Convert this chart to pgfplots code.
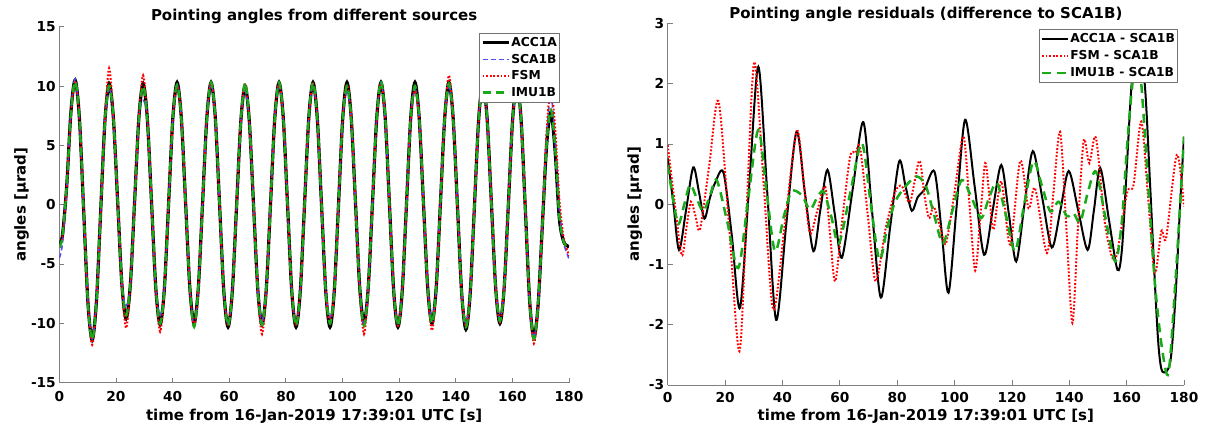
\documentclass[border=0pt]{standalone}
\usepackage{fontspec}
\setmainfont{DejaVu Sans}[BoldFont={DejaVu Sans Bold}]
\usepackage{pgfplots}
\usepackage{pgfplotstable}
\pgfplotsset{compat=1.18}
\definecolor{mblue}{RGB}{77,77,255}
\definecolor{mgreen}{RGB}{25,170,25}
\newcommand\tickfont{\fontsize{13.7}{16}\selectfont\bfseries}
\newcommand\labfont{\fontsize{15}{18}\selectfont\bfseries}
\newcommand\legfont{\fontsize{12.3}{13}\selectfont\bfseries}

\pgfplotstableread{
t acc sca fsm imu
0 -3.3 -4.5 -3.6 -3.6
1.1 -2.6 -3.3 -2.7 -2.7
2.6 1.5 1.2 1.5 1.5
4.1 7.8 7.8 7.6 7.7
5.6 10.5 10.6 10.3 10.4
7.1 7.3 7.3 7.3 7.3
8.6 -0.45 -0.45 -0.45 -0.45
10.1 -8.2 -8.2 -8.2 -8.2
11.6 -11.4 -11.3 -11.8 -11.4
13.1 -8.2 -8.2 -8.2 -8.2
14.6 -0.6 -0.6 -0.6 -0.6
16.1 7.0 7.0 7.0 7.0
17.6 10.2 9.9 11.5 10.0
19.1 7.3 7.3 7.3 7.3
20.6 0.3 0.3 0.3 0.3
22.1 -6.7 -6.7 -6.7 -6.7
23.6 -9.6 -8.5 -10.4 -9.3
25.1 -6.7 -6.7 -6.7 -6.7
26.6 0.3 0.3 0.3 0.3
28.1 7.3 7.3 7.3 7.3
29.6 10.2 8.8 10.9 10.0
31.1 7.2 7.2 7.2 7.2
32.6 0.05 0.05 0.05 0.05
34.1 -7.1 -7.1 -7.1 -7.1
35.6 -10.1 -9.3 -10.7 -10.0
37.1 -7.1 -7.1 -7.1 -7.1
38.6 0.1 0.1 0.1 0.1
40.1 7.3 7.3 7.3 7.3
41.6 10.3 10.1 10.1 10.1
43.1 7.3 7.3 7.3 7.3
44.6 0.15 0.15 0.15 0.15
46.1 -7.0 -7.0 -7.0 -7.0
47.6 -10.0 -10.2 -10.3 -10.3
49.1 -7.0 -7.0 -7.0 -7.0
50.6 0.15 0.15 0.15 0.15
52.1 7.3 7.3 7.3 7.3
53.6 10.3 10.2 10.3 10.3
55.1 7.3 7.3 7.3 7.3
56.6 0 0 0 0
58.1 -7.3 -7.3 -7.3 -7.3
59.6 -10.3 -10.1 -10.1 -10.2
61.1 -7.3 -7.3 -7.3 -7.3
62.6 -0.15 -0.15 -0.15 -0.15
64.1 7.0 7.0 7.0 7.0
65.6 10.0 9.6 10.2 10.3
67.1 7.05 7.05 7.05 7.05
68.6 -0.05 -0.05 -0.05 -0.05
70.1 -7.15 -7.15 -7.15 -7.15
71.6 -10.1 -9.8 -10.9 -10.1
73.1 -7.1 -7.1 -7.1 -7.1
74.6 0.1 0.1 0.1 0.1
76.1 7.3 7.3 7.3 7.3
77.6 10.3 10.2 10.3 10.3
79.1 7.3 7.3 7.3 7.3
80.6 0 0 0 0
82.1 -7.3 -7.3 -7.3 -7.3
83.6 -10.3 -10.0 -10.1 -10.2
85.1 -7.3 -7.3 -7.3 -7.3
86.6 0 0 0 0
88.1 7.3 7.3 7.3 7.3
89.6 10.3 10.1 10.2 10.3
91.1 7.3 7.3 7.3 7.3
92.6 0 0 0 0
94.1 -7.3 -7.3 -7.3 -7.3
95.6 -10.3 -9.5 -10.0 -10.0
97.1 -7.3 -7.3 -7.3 -7.3
98.6 0 0 0 0
100.1 7.3 7.3 7.3 7.3
101.6 10.3 9.5 10.1 10.0
103.1 7.3 7.3 7.3 7.3
104.6 0.15 0.15 0.15 0.15
106.1 -7.0 -7.0 -7.0 -7.0
107.6 -10.0 -10.2 -10.9 -10.2
109.1 -7.0 -7.0 -7.0 -7.0
110.6 0.15 0.15 0.15 0.15
112.1 7.3 7.3 7.3 7.3
113.6 10.3 10.3 10.2 10.4
115.1 7.3 7.3 7.3 7.3
116.6 0 0 0 0
118.1 -7.3 -7.3 -7.3 -7.3
119.6 -10.3 -10.1 -10.2 -10.2
121.1 -7.3 -7.3 -7.3 -7.3
122.6 0 0 0 0
124.1 7.3 7.3 7.3 7.3
125.6 10.3 9.7 9.6 10.0
127.1 7.3 7.3 7.3 7.3
128.6 0.15 0.15 0.15 0.15
130.1 -7.0 -7.0 -7.0 -7.0
131.6 -10.0 -9.7 -10.6 -10.0
133.1 -7.0 -7.0 -7.0 -7.0
134.6 0.15 0.15 0.15 0.15
136.1 7.3 7.3 7.3 7.3
137.6 10.3 10.1 10.9 10.2
139.1 7.25 7.25 7.25 7.25
140.6 -0.1 -0.1 -0.1 -0.1
142.1 -7.45 -7.45 -7.45 -7.45
143.6 -10.5 -10.0 -10.3 -10.3
145.1 -7.5 -7.5 -7.5 -7.5
146.6 -0.15 -0.15 -0.15 -0.15
148.1 7.2 7.2 7.2 7.2
149.6 10.2 10.3 10.5 10.3
151.1 7.2 7.2 7.2 7.2
152.6 0.1 0.1 0.1 0.1
154.1 -7.0 -7.0 -7.0 -7.0
155.6 -10.0 -9.6 -9.9 -9.8
157.1 -7.0 -7.0 -7.0 -7.0
158.6 0.1 0.1 0.1 0.1
160.1 7.2 7.2 7.2 7.2
161.6 10.2 9.5 10.2 10.2
163.1 7.1 7.1 7.1 7.1
164.6 -0.5 -0.5 -0.5 -0.5
166.1 -8.1 -8.1 -8.1 -8.1
167.6 -11.2 -11.2 -11.7 -11.3
169.1 -8.4 -8.4 -8.4 -8.4
170.6 -1.7 -1.7 -1.7 -1.7
172.1 5.0 5.8 6.2 5.1
173.6 7.8 9.2 9.8 8.0
175.1 4.5 5.5 6.5 4.8
176.6 -1.2 -0.5 0.5 -1.0
178.1 -3.1 -3.2 -2.8 -3.1
179.6 -3.5 -4.3 -4.0 -3.6
180 -3.6 -4.6 -4.3 -3.7
}\lefttable

\pgfplotsset{
  every axis title shift=0pt,
  matax/.style={
    scale only axis,
    axis x line*=bottom, axis y line*=left,
    axis line style={black!50, line width=0.7pt, -},
    tick style={black!50, line width=0.7pt},
    tick align=inside,
    major tick length=5pt,
    xmin=0, xmax=180,
    xtick={0,20,40,60,80,100,120,140,160,180},
    xticklabels={0,20,40,60,80,100,120,140,160,180},
    ticklabel style={font=\tickfont, text=black},
    xticklabel style={anchor=base},
    label style={font=\labfont},
    title style={font=\labfont, anchor=base},
    ylabel style={anchor=base},
    xlabel style={anchor=base},
    legend cell align=left,
    clip=true,
  }
}

\begin{document}
\begin{tikzpicture}[x=1pt,y=1pt]
\path[use as bounding box] (0,0) rectangle (1210,427);

% ---------------- left axis
\begin{axis}[matax,
  at={(59.3pt,44.3pt)}, anchor=south west,
  width=509.7pt, height=356pt,
  ymin=-15, ymax=15,
  ytick={-15,-10,-5,0,5,10,15},
  yticklabels={-15,-10,-5,0,5,10,15},
  xticklabel style={yshift=-19pt},
  title={Pointing angles from different sources},
  title style={at={(axis description cs:0.5,1.0)}, yshift=6pt},
  xlabel={time from 16-Jan-2019 17:39:01 UTC [s]},
  xlabel style={at={(axis description cs:0.5,-0.106)}},
  ylabel={angles [µrad]},
  ylabel style={at={(axis description cs:-0.066,0.5)}},
  legend image code/.code={\draw[#1] (0pt,0pt) -- (26pt,0pt);},
  legend style={at={(0.982,0.983)}, anchor=north east, draw=black!55,
    line width=0.8pt, fill=white, font=\legfont, inner xsep=1.5pt, inner ysep=1.5pt,
    row sep=0pt,
    nodes={text height=10pt, text depth=2.5pt, inner xsep=1pt, inner ysep=2pt}},
]
\addplot[black, line width=3.2pt, smooth] table[x=t,y=acc]{\lefttable};
\addlegendentry{ACC1A}
\addplot[mblue, line width=1.6pt, smooth, dash pattern=on 5pt off 3pt] table[x=t,y=sca]{\lefttable};
\addlegendentry{SCA1B}
\addplot[red, line width=2pt, smooth, dash pattern=on 1.8pt off 1.8pt] table[x=t,y=fsm]{\lefttable};
\addlegendentry{FSM}
\addplot[mgreen, line width=2.4pt, smooth, dash pattern=on 8pt off 5pt] table[x=t,y=imu]{\lefttable};
\addlegendentry{IMU1B}
\end{axis}

% ---------------- right axis
\begin{axis}[matax,
  at={(667.7pt,42pt)}, anchor=south west,
  width=516.3pt, height=361.7pt,
  ymin=-3, ymax=3,
  ytick={-3,-2,-1,0,1,2,3},
  yticklabels={-3,-2,-1,0,1,2,3},
  xticklabel style={yshift=-18pt},
  title={Pointing angle residuals (difference to SCA1B)},
  title style={at={(axis description cs:0.5,1.0)}, yshift=5pt},
  xlabel={time from 16-Jan-2019 17:39:01 UTC [s]},
  xlabel style={at={(axis description cs:0.5,-0.098)}},
  ylabel={angles [µrad]},
  ylabel style={at={(axis description cs:-0.056,0.5)}},
  legend image code/.code={\draw[#1] (0pt,0pt) -- (26pt,0pt);},
  legend style={at={(0.988,0.984)}, anchor=north east, draw=black!55,
    line width=0.8pt, fill=white, font=\legfont, inner xsep=1.5pt, inner ysep=1pt,
    row sep=0pt,
    nodes={text height=10pt, text depth=3pt, inner xsep=1pt, inner ysep=2pt}},
]
\addplot[black, line width=2pt, smooth] coordinates {
(0,0.76) (2,0.0) (3.95,-0.76) (6.4,-0.1) (8.9,0.61) (10.9,0.2) (12.8,-0.24) (14.7,0.1) (16.5,0.35) (19.4,0.53) (22.3,-0.5) (25.2,-1.72) (28.4,0.3) (31.6,2.28) (34.7,0.2) (37.8,-1.92) (41.3,-0.35) (44.9,1.2) (47.8,0.2) (50.8,-0.78) (53.2,-0.1) (55.7,0.57) (58.2,-0.15) (60.7,-0.89) (64.5,0.25) (68.2,1.36) (71.2,-0.1) (74.3,-1.55) (77.5,-0.4) (80.7,0.71) (82.9,0.3) (85.1,-0.11) (87.2,0.12) (89.5,0.24) (93,0.54) (95.5,-0.45) (97.9,-1.47) (100.8,0.0) (103.7,1.4) (107,0.3) (110.3,-0.84) (113.3,-0.1) (116.3,0.65) (118.9,-0.15) (121.5,-0.95) (124.4,0.0) (127.3,0.88) (130.6,0.1) (133.9,-0.72) (136.9,-0.1) (139.8,0.55) (143.1,-0.1) (146.4,-0.76) (148.6,-0.1) (150.8,0.6) (153.8,-0.25) (156.8,-1.09) (158.4,-0.73) (160.1,0.65) (161.8,2.03) (163.8,2.65) (166.3,2.0) (168.2,0.3) (170,-1.45) (171.2,-2.4) (172.5,-2.78) (175.2,-2.62) (177,-1.56) (178.7,0.04) (180,1.12)
};
\addlegendentry{ACC1A - SCA1B}
\addplot[red, line width=2pt, smooth, dash pattern=on 1.8pt off 1.8pt] coordinates {
(0,0.98) (2.5,0.0) (4.9,-0.85) (6.5,-0.4) (8.1,0.04) (9.7,-0.2) (11.3,-0.41) (14.5,0.65) (17.7,1.71) (21.3,-0.3) (25,-2.44) (27.6,0.0) (30.2,2.36) (33.5,0.3) (36.8,-1.75) (40.9,-0.3) (45,1.21) (47.3,0.4) (49.6,-0.48) (52.2,-0.1) (54.9,0.29) (56.6,-0.5) (58.4,-1.28) (61,-0.2) (63.6,0.79) (65.5,0.85) (67.1,0.93) (69.8,-0.2) (72.5,-1.28) (76,-0.4) (79.3,0.2) (81.6,0.3) (84.5,0.04) (87.7,0.72) (89.5,0.15) (91.1,-0.23) (92.7,-0.04) (94.8,-0.35) (97,-0.65) (100,0.2) (103.1,1.12) (105.2,0.0) (107.2,-1.1) (109,-0.2) (110.7,0.68) (112.2,0.1) (113.6,-0.42) (116.3,0.38) (119.4,-0.67) (122.9,0.72) (125.8,-0.07) (128.1,0.26) (132.2,-0.81) (134.5,0.2) (136.8,1.2) (139,-0.4) (141.1,-1.97) (143,-0.4) (145,1.05) (147,0.68) (149.3,1.1) (152.5,-0.34) (156,-0.92) (160.1,0.18) (162.4,0.32) (165.1,1.37) (167.5,0.1) (169.8,-1.14) (172.1,-0.45) (173.8,-0.55) (177.5,0.82) (180,-0.04)
};
\addlegendentry{FSM - SCA1B}
\addplot[mgreen, line width=2.5pt, smooth, dash pattern=on 9pt off 6pt] coordinates {
(0,0.65) (1.8,0.1) (3.7,-0.33) (5.8,0.0) (7.8,0.32) (10.1,0.1) (12.4,-0.12) (14.8,0.15) (17.1,0.4) (20.8,-0.3) (24.6,-1.06) (28.1,0.1) (31.6,1.23) (34.5,0.2) (37.4,-0.78) (40.5,-0.2) (43.2,0.21) (46.7,0.15) (49.6,-0.09) (52,0.1) (54.3,0.21) (57,-0.2) (59.7,-0.65) (63.7,0.2) (67.7,1.01) (70.8,0.0) (73.8,-0.92) (76.5,-0.4) (79.3,0.04) (83,0.3) (86.8,0.46) (90,0.3) (93,-0.2) (96,-0.65) (99.3,-0.1) (102.5,0.4) (106,0.1) (109.3,-0.23) (112,0.1) (114.8,0.35) (118,-0.2) (121.1,-0.78) (124.3,0.0) (127.5,0.71) (130.5,0.3) (133.4,-0.12) (136.3,0.04) (139.2,-0.2) (141.5,-0.15) (143.8,-0.3) (146.5,0.2) (149.3,0.54) (152.5,-0.2) (156,-0.95) (158.3,-0.3) (160.1,0.93) (162.1,2.03) (163.6,2.3) (165.1,2.0) (168.2,-0.18) (170,-1.39) (172.3,-2.38) (174.6,-2.8) (177,-1.28) (178.7,0.04) (180,1.12)
};
\addlegendentry{IMU1B - SCA1B}
\end{axis}
\end{tikzpicture}
\end{document}
